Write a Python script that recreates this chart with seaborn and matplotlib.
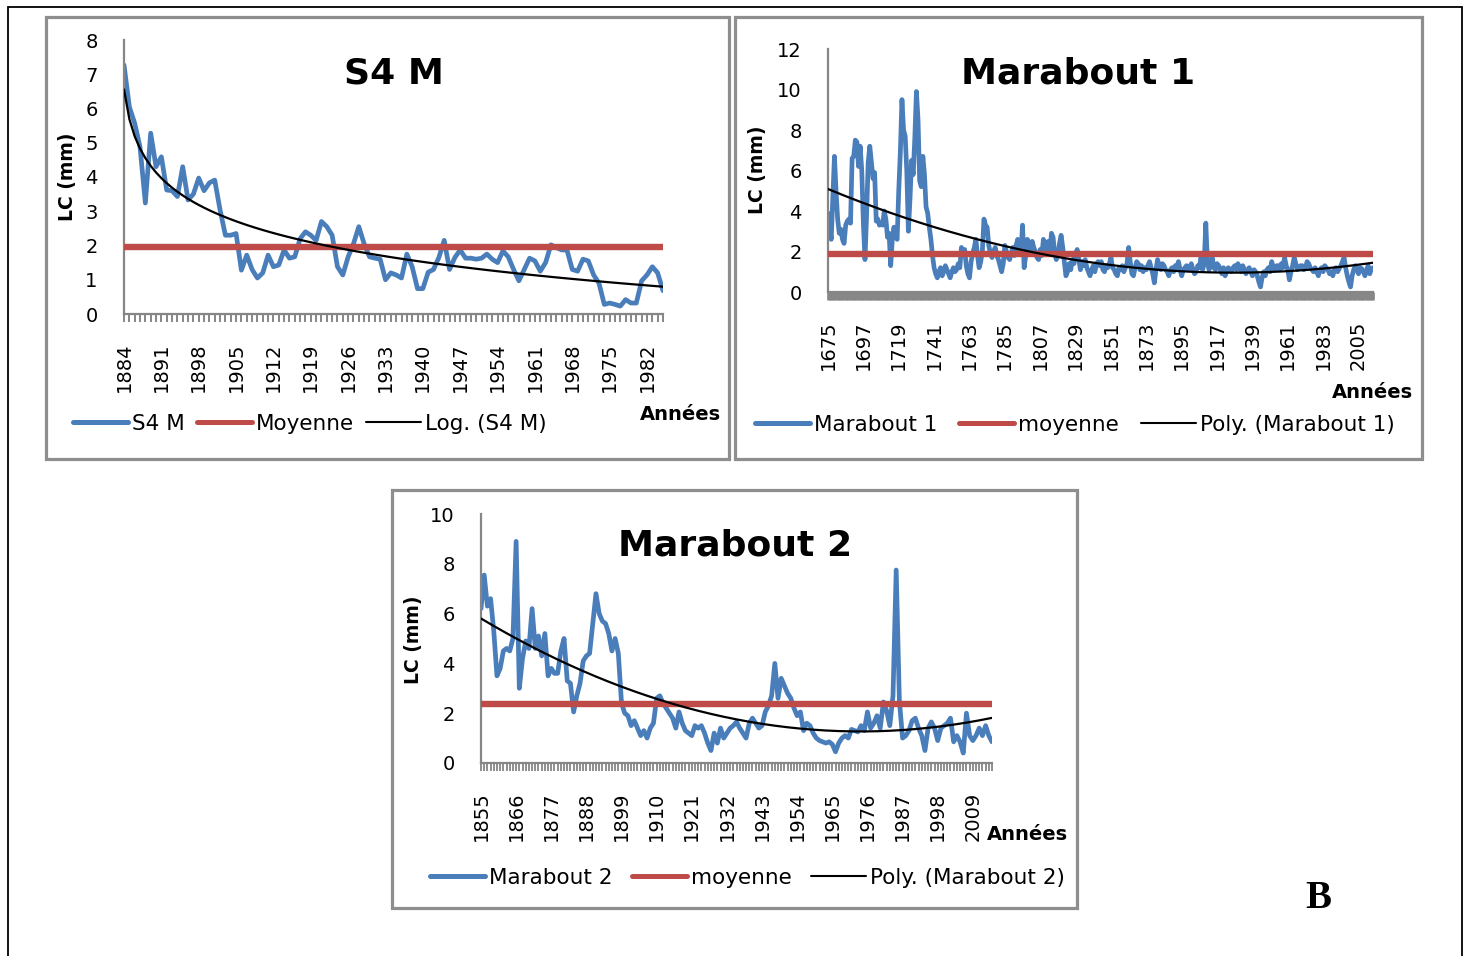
import numpy as np
import pandas as pd
import matplotlib
matplotlib.use("Agg")
import matplotlib.pyplot as plt
import seaborn as sns
from matplotlib.patches import Rectangle
from matplotlib.lines import Line2D

# ---------------- data ----------------
s4m_start = 1884
s4m_values = [
    7.27, 6.05, 5.57, 4.88, 3.24, 5.28, 4.3, 4.59, 3.62, 3.6,      # 1884-1893
    3.43, 4.3, 3.33, 3.5, 3.97, 3.6, 3.83, 3.91, 3.04, 2.3,        # 1894-1903
    2.3, 2.35, 1.28, 1.72, 1.3, 1.05, 1.2, 1.72, 1.38, 1.43,       # 1904-1913
    1.87, 1.63, 1.67, 2.2, 2.4, 2.3, 2.15, 2.7, 2.55, 2.3,         # 1914-1923
    1.38, 1.14, 1.67, 2.05, 2.55, 2.05, 1.67, 1.63, 1.6, 1.0,      # 1924-1933
    1.2, 1.14, 1.05, 1.75, 1.38, 0.74, 0.74, 1.22, 1.3, 1.65,      # 1934-1943
    2.15, 1.3, 1.65, 1.87, 1.63, 1.63, 1.6, 1.63, 1.75, 1.6,       # 1944-1953
    1.5, 1.84, 1.67, 1.3, 0.97, 1.3, 1.63, 1.55, 1.25, 1.5,        # 1954-1963
    2.02, 1.94, 1.87, 1.87, 1.3, 1.25, 1.6, 1.55, 1.14, 0.9,       # 1964-1973
    0.28, 0.32, 0.28, 0.23, 0.42, 0.32, 0.32, 0.97, 1.14, 1.38,    # 1974-1983
    1.2, 0.68,                                                     # 1984-1985
]
s4m_mean = 1.95

m1_start = 1675
m1_values = [
    3.9, 3.2, 2.6, 4.6, 6.7, 5.0, 3.6, 2.9, 3.1, 2.6,      # 1675
    2.4, 3.3, 3.5, 3.6, 3.4, 6.6, 6.7, 7.5, 7.4, 6.2,      # 1685
    7.2, 6.0, 3.4, 1.6, 3.8, 6.4, 7.2, 6.4, 5.6, 5.9,      # 1695
    3.5, 3.6, 3.3, 3.4, 3.3, 4.0, 3.6, 2.7, 2.9, 1.3,      # 1705
    2.6, 3.2, 2.8, 2.6, 5.0, 6.9, 9.5, 8.0, 7.7, 6.0,      # 1715
    3.0, 4.6, 6.5, 5.8, 7.6, 9.9, 8.5, 5.5, 5.2, 6.7,      # 1725
    5.8, 4.2, 3.9, 3.2, 2.6, 1.8, 1.2, 0.9, 0.7, 1.0,      # 1735
    1.2, 0.8, 1.0, 1.3, 1.1, 0.9, 0.7, 1.0, 1.2, 1.0,      # 1745
    1.1, 1.4, 1.2, 2.2, 1.9, 2.1, 1.3, 0.9, 0.7, 1.5,      # 1755
    1.9, 2.2, 2.6, 1.8, 1.2, 1.5, 2.0, 3.6, 3.3, 3.2,      # 1765
    2.3, 1.9, 1.7, 2.0, 2.2, 1.8, 1.6, 1.3, 1.0, 1.4,      # 1775
    2.3, 2.0, 1.7, 1.6, 1.9, 2.2, 1.8, 2.3, 2.6, 2.1,      # 1785
    1.9, 3.3, 1.2, 1.8, 2.6, 2.4, 1.9, 2.5, 2.2, 2.0,      # 1795
    1.7, 1.6, 2.1, 1.8, 2.6, 2.3, 2.0, 2.5, 1.9, 2.9,      # 1805
    2.7, 1.9, 1.6, 1.8, 2.4, 2.8, 2.2, 1.5, 0.8, 1.0,      # 1815
    1.4, 1.1, 1.6, 1.4, 1.9, 2.1, 1.6, 1.1, 1.5, 1.3,      # 1825
    1.6, 1.2, 1.0, 0.8, 1.1, 1.3, 1.0, 1.4, 1.5, 1.3,      # 1835
    1.5, 1.1, 1.0, 1.3, 1.2, 1.4, 1.7, 1.2, 1.1, 0.9,      # 1845
    0.8, 1.2, 1.1, 1.3, 1.0, 1.2, 1.4, 2.2, 1.5, 0.9,      # 1855
    0.8, 1.2, 1.5, 1.4, 1.1, 1.3, 1.0, 1.2, 1.1, 1.3,      # 1865
    1.5, 1.2, 0.9, 0.45, 1.1, 1.6, 1.3, 1.1, 1.4, 1.3,     # 1875
    1.1, 1.0, 0.8, 1.1, 1.2, 1.0, 1.3, 1.2, 1.5, 1.1,      # 1885
    0.8, 1.1, 1.2, 1.3, 1.1, 1.2, 1.4, 1.1, 0.9, 1.0,      # 1895
    1.3, 1.2, 1.7, 1.1, 1.4, 3.4, 1.5, 1.1, 1.3, 1.7,      # 1905
    1.2, 1.1, 1.4, 1.3, 1.1, 0.9, 1.2, 0.8, 1.0, 1.2,      # 1915
    1.1, 1.0, 1.2, 1.3, 1.1, 1.4, 1.2, 1.0, 1.3, 1.1,      # 1925
    0.9, 1.1, 1.2, 1.0, 0.8, 1.1, 1.0, 0.8, 0.5, 0.25,     # 1935
    0.7, 1.0, 0.8, 1.1, 1.2, 1.0, 1.5, 1.2, 1.1, 1.3,      # 1945
    1.3, 1.1, 1.4, 1.2, 1.7, 1.3, 1.1, 0.6, 1.0, 1.3,      # 1955
    1.7, 1.4, 1.1, 1.2, 1.3, 1.3, 1.1, 1.2, 1.5, 1.4,      # 1965
    1.2, 1.1, 1.0, 1.2, 1.0, 0.8, 1.1, 1.2, 1.0, 1.3,      # 1975
    1.2, 1.1, 0.9, 1.0, 0.8, 1.1, 1.2, 1.0, 1.15, 1.3,     # 1985
    1.5, 1.7, 1.2, 0.8, 0.5, 0.25, 0.8, 1.1, 1.3, 1.1,     # 1995
    0.9, 1.2, 1.15, 1.0, 0.8, 1.1, 1.3, 0.9, 1.15, 1.2,    # 2005
]
m1_mean = 1.9

m2_start = 1855
m2_values = [
    6.2, 7.55, 6.3, 6.6, 5.3, 3.5, 3.8, 4.5, 4.6, 4.5,     # 1855
    5.0, 8.9, 3.0, 4.2, 4.9, 4.6, 6.2, 4.6, 5.1, 4.3,      # 1865
    5.2, 3.5, 3.8, 3.6, 3.6, 4.5, 5.0, 3.3, 3.2, 2.05,     # 1875
    2.7, 3.2, 4.1, 4.3, 4.4, 5.6, 6.8, 6.0, 5.7, 5.6,      # 1885
    5.2, 4.5, 5.0, 4.4, 2.4, 2.0, 1.9, 1.5, 1.7, 1.4,      # 1895
    1.1, 1.3, 1.0, 1.4, 1.6, 2.6, 2.7, 2.4, 2.2, 2.0,      # 1905
    1.8, 1.4, 2.05, 1.6, 1.3, 1.2, 1.1, 1.5, 1.4, 1.5,     # 1915
    1.2, 0.8, 0.5, 1.2, 0.8, 1.4, 1.0, 1.2, 1.4, 1.5,      # 1925
    1.65, 1.4, 1.2, 1.0, 1.6, 1.8, 1.6, 1.4, 1.5, 2.05,    # 1935
    2.3, 2.7, 4.0, 2.6, 3.4, 3.1, 2.8, 2.6, 2.2, 1.9,      # 1945
    2.05, 1.3, 1.6, 1.5, 1.2, 1.0, 0.9, 0.85, 0.8, 0.85,   # 1955
    0.75, 0.45, 0.8, 1.0, 1.1, 1.0, 1.35, 1.3, 1.25, 1.5,  # 1965
    1.3, 2.05, 1.4, 1.6, 1.9, 1.4, 2.45, 2.1, 1.5, 2.7,    # 1975
    7.75, 2.5, 1.0, 1.1, 1.3, 1.7, 1.8, 1.4, 1.1, 0.5,     # 1985
    1.4, 1.65, 1.4, 0.9, 1.4, 1.5, 1.6, 1.8, 0.85, 1.1,    # 1995
    0.85, 0.4, 2.0, 1.1, 0.9, 1.1, 1.4, 1.1, 1.5, 1.1,     # 2005
    0.85,                                                  # 2015
]
m2_mean = 2.35

titles = ["S4 M", "Marabout 1", "Marabout 2"]
legend_labels = [
    ["S4 M", "Moyenne", "Log. (S4 M)"],
    ["Marabout 1", "moyenne", "Poly. (Marabout 1)"],
    ["Marabout 2", "moyenne", "Poly. (Marabout 2)"],
]
year_tick_steps = [7, 22, 11]
y_max = [8, 12, 10]
y_steps = [1, 2, 2]
y_label = "LC (mm)"
x_label = "Années"

# ---------------- style ----------------
sns.set_theme(style="white")
plt.rcParams["font.family"] = ["DejaVu Sans"]
plt.rcParams["text.color"] = "black"
plt.rcParams["axes.labelcolor"] = "black"
plt.rcParams["xtick.color"] = "black"
plt.rcParams["ytick.color"] = "black"

BLUE = "#4A7EBB"
RED = "#BE4B48"
GRAY = "#868686"
BOX = "#8E8E8E"

W, H = 1470, 956
fig = plt.figure(figsize=(W / 100, H / 100), dpi=100)
fig.patch.set_facecolor("white")


def fx(x):
    return x / W


def fy(y):
    return 1 - y / H


def frame(l, t, r, b, color, lw):
    fig.add_artist(Rectangle((fx(l), fy(b)), (r - l) / W, (b - t) / H,
                             transform=fig.transFigure, fill=False,
                             edgecolor=color, linewidth=lw, zorder=0))


def log_trend(v):
    idx = np.arange(1, len(v) + 1)
    a, b = np.polyfit(np.log(idx), v, 1)
    return a * np.log(idx) + b


def poly_trend(v):
    idx = np.arange(1, len(v) + 1)
    c = np.polyfit(idx, v, 2)
    return np.polyval(c, idx)


series = [
    (s4m_start, s4m_values, s4m_mean, log_trend),
    (m1_start, m1_values, m1_mean, poly_trend),
    (m2_start, m2_values, m2_mean, poly_trend),
]

# pixel layout: axes (left, top, right, bottom)
axes_px = [(124, 40, 663, 314), (828, 49, 1373, 292), (481, 514, 992, 763)]
title_px = [(394, 83), (1078, 83), (735, 556)]
ylabel_px = [(68, 177), (757, 170), (414, 640)]
xlabel_px = [(680, 415), (1372, 392), (1027, 835)]
legend_px = [(73, 424), (755, 425), (430, 878)]
col_spacing = [0.55, 1.0, 0.88]
minor_width = [1.4, 1.9, 1.3]
boxes_px = [(46, 17, 729, 459), (735, 17, 1422, 459), (392, 490, 1077, 908)]

frame(8, 7, 1462, 962, "black", 1.3)
for bx in boxes_px:
    frame(*bx, BOX, 2.3)

for i, (start, vals, mean, trend_fn) in enumerate(series):
    vals = np.asarray(vals, dtype=float)
    years = np.arange(start, start + len(vals))
    df = pd.DataFrame({"year": years, "val": vals,
                       "mean": np.full(len(vals), mean),
                       "trend": trend_fn(vals)})
    l, t, r, b = axes_px[i]
    ax = fig.add_axes([fx(l), fy(b), (r - l) / W, (b - t) / H])
    ax.patch.set_alpha(0)

    sns.lineplot(data=df, x="year", y="val", ax=ax, color=BLUE,
                 linewidth=3.4, solid_joinstyle="round", zorder=2)
    sns.lineplot(data=df, x="year", y="mean", ax=ax, color=RED,
                 linewidth=4.6, zorder=3)
    sns.lineplot(data=df, x="year", y="trend", ax=ax, color="black",
                 linewidth=1.6, zorder=4)

    ax.set_xlim(years[0], years[-1])
    ax.set_ylim(0, y_max[i])
    ax.set_yticks(np.arange(0, y_max[i] + 0.1, y_steps[i]))
    major = years[::year_tick_steps[i]]
    ax.set_xticks(major)
    ax.set_xticklabels([str(y) for y in major], rotation=90)
    ax.set_xticks(years, minor=True)
    ax.set_xlabel("")
    ax.set_ylabel("")
    ax.grid(False)
    for s in ["top", "right"]:
        ax.spines[s].set_visible(False)
    for s in ["left", "bottom"]:
        ax.spines[s].set_color(GRAY)
        ax.spines[s].set_linewidth(1.6)
    ax.tick_params(axis="y", which="major", length=7, width=1.4, color=GRAY,
                   direction="out", pad=12, labelsize=14, labelcolor="black")
    ax.tick_params(axis="x", which="both", length=5.5, width=minor_width[i],
                   color=GRAY, direction="out", bottom=True)
    ax.tick_params(axis="x", which="major", pad=15, labelsize=14,
                   labelcolor="black")

    fig.text(fx(title_px[i][0]), fy(title_px[i][1]), titles[i],
             ha="center", va="baseline", fontsize=26, fontweight="bold",
             color="black")
    fig.text(fx(ylabel_px[i][0]), fy(ylabel_px[i][1]), y_label,
             rotation=90, ha="center", va="center", fontsize=13.5,
             fontweight="bold", color="black")
    fig.text(fx(xlabel_px[i][0]), fy(xlabel_px[i][1]), x_label,
             ha="center", va="center", fontsize=14, fontweight="bold",
             color="black")

    handles = [Line2D([], [], color=BLUE, linewidth=3.6),
               Line2D([], [], color=RED, linewidth=3.6),
               Line2D([], [], color="black", linewidth=1.5)]
    leg = fig.legend(handles, legend_labels[i], loc="center left",
                     bbox_to_anchor=(fx(legend_px[i][0]), fy(legend_px[i][1])),
                     bbox_transform=fig.transFigure, ncol=3, frameon=False,
                     borderpad=0, borderaxespad=0, handlelength=2.56,
                     handletextpad=0.19, columnspacing=col_spacing[i],
                     fontsize=15.5)
    for txt in leg.get_texts():
        txt.set_color("black")

fig.text(fx(1318), fy(898), "B", family="Liberation Serif",
         fontweight="bold", fontsize=28, ha="center", va="center",
         color="black")

fig.savefig("out.png", dpi=100)
